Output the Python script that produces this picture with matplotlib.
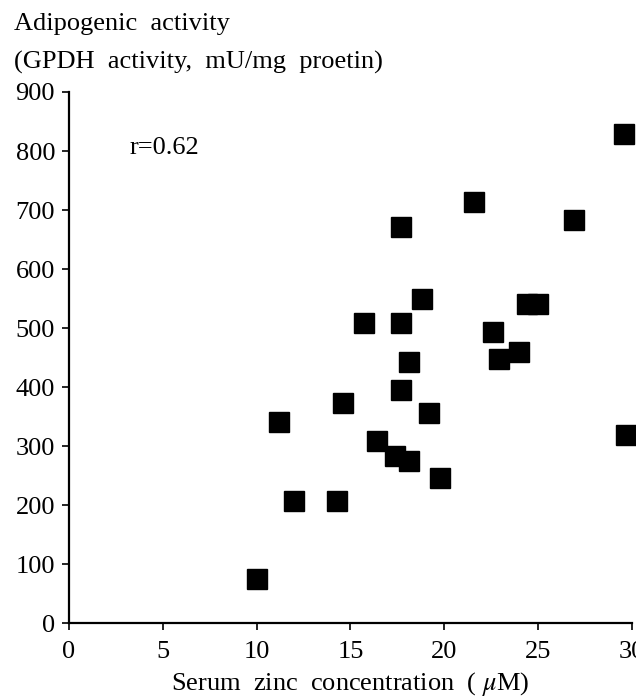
import matplotlib
matplotlib.use("Agg")
import matplotlib.pyplot as plt

# serum zinc (uM) vs GPDH activity (mU/mg protein)
zinc = [10.0, 11.2, 12.0, 14.3, 14.6, 15.7, 16.4, 17.4, 18.1, 17.7,
        17.7, 17.7, 18.1, 18.8, 19.2, 19.8, 21.6, 22.6, 22.9, 24.0,
        24.4, 25.0, 26.9, 29.6, 29.7]
gpdh = [75, 340, 207, 207, 373, 508, 308, 283, 275, 395,
        508, 672, 443, 549, 356, 245, 713, 493, 448, 460,
        540, 540, 683, 828, 318]

x_ticks = [0, 5, 10, 15, 20, 25, 30]
y_ticks = [0, 100, 200, 300, 400, 500, 600, 700, 800, 900]
r_label = "r=0.62"

plt.rcParams['font.family'] = ['Liberation Serif', 'DejaVu Serif']
plt.rcParams['mathtext.fontset'] = 'stix'

fig = plt.figure(figsize=(6.36, 6.98), dpi=100)
ax = fig.add_axes([0.1085, 0.1074, 0.885, 0.7608])

ax.plot(zinc, gpdh, linestyle='none', marker='s', markersize=14,
        color='black', clip_on=False)

ax.set_xlim(0, 30)
ax.set_ylim(0, 900)
ax.set_xticks(x_ticks)
ax.set_yticks(y_ticks)
ax.tick_params(labelsize=19, width=1.2, length=5, direction='out')
ax.tick_params(axis='y', pad=5)
ax.tick_params(axis='x', pad=8)

for side in ['top', 'right']:
    ax.spines[side].set_visible(False)
for side in ['left', 'bottom']:
    ax.spines[side].set_linewidth(1.6)

ax.text(3.2, 805, r_label, fontsize=19, va='center')
ax.set_xlabel("Serum  zinc  concentration  ( $\\mu$M)", fontsize=19, labelpad=5)

# two-line axis title above the plot
fig.text(0.022, 0.966, "Adipogenic  activity", fontsize=19, va='center')
fig.text(0.022, 0.911, "(GPDH  activity,  mU/mg  proetin)", fontsize=19, va='center')

plt.savefig("out.png", dpi=100)
